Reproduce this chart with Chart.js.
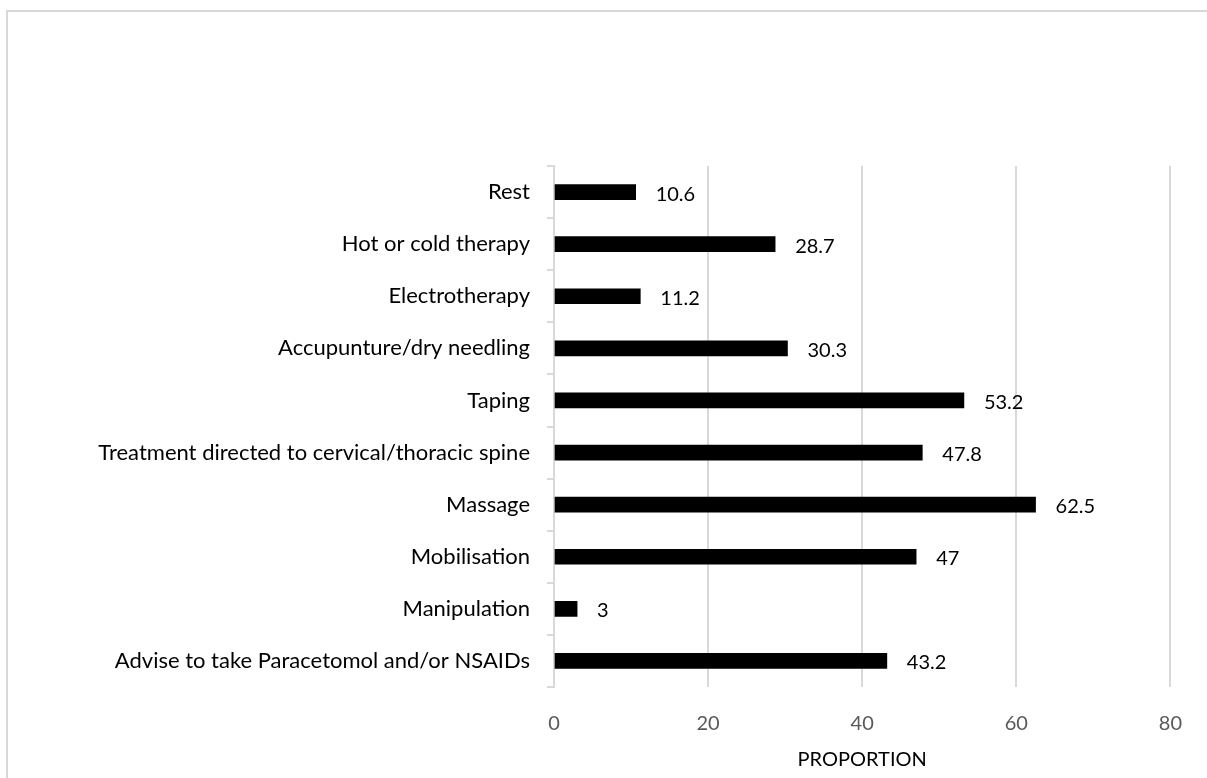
<!DOCTYPE html>
<html lang="en">
<head>
    <meta charset="UTF-8">
    <title>Proportion by treatment</title>
    <script src="https://cdn.jsdelivr.net/npm/chart.js"></script>
    <style>
        html, body {
            margin: 0;
            padding: 0;
            background: #fff;
            overflow: hidden;
        }
        .frame {
            position: absolute;
            left: 6px;
            top: 10px;
            width: 1230px;
            height: 800px;
            border: 2px solid #d9d9d9;
        }
        .chart-wrap {
            position: absolute;
            left: 0;
            top: 0;
            width: 1207px;
            height: 778px;
        }
    </style>
</head>
<body>
    <div class="frame"></div>
    <div class="chart-wrap">
        <canvas id="barChart"></canvas>
    </div>

    <script>
        // Treatments, listed top to bottom
        const treatments = [
            'Rest',
            'Hot or cold therapy',
            'Electrotherapy',
            'Accupunture/dry needling',
            'Taping',
            'Treatment directed to cervical/thoracic spine',
            'Massage',
            'Mobilisation',
            'Manipulation',
            'Advise to take Paracetomol and/or NSAIDs'
        ];
        const proportions = [10.6, 28.7, 11.2, 30.3, 53.2, 47.8, 62.5, 47, 3, 43.2];
        const xTicks = [0, 20, 40, 60, 80];

        const gridGrey = '#d9d9d9';

        // writes each value just past the end of its bar
        const valueLabels = {
            id: 'valueLabels',
            afterDatasetsDraw(chart) {
                const ctx = chart.ctx;
                const meta = chart.getDatasetMeta(0);
                ctx.save();
                ctx.font = '20px Lato';
                ctx.fillStyle = '#000';
                ctx.textAlign = 'left';
                ctx.textBaseline = 'middle';
                meta.data.forEach((bar, i) => {
                    ctx.fillText(String(proportions[i]), bar.x + 20, bar.y + 2);
                });
                ctx.restore();
            }
        };

        const ctx = document.getElementById('barChart').getContext('2d');
        new Chart(ctx, {
            type: 'bar',
            data: {
                labels: treatments,
                datasets: [{
                    data: proportions,
                    backgroundColor: '#000',
                    barThickness: 15
                }]
            },
            options: {
                indexAxis: 'y',
                responsive: true,
                maintainAspectRatio: false,
                animation: false,
                layout: {
                    padding: { top: 166, right: 34, bottom: 0, left: 0 }
                },
                plugins: {
                    legend: { display: false },
                    tooltip: { enabled: false }
                },
                scales: {
                    x: {
                        min: 0,
                        max: 80,
                        afterBuildTicks: (scale) => {
                            scale.ticks = xTicks.map(v => ({ value: v }));
                        },
                        afterFit: (scale) => { scale.height = 91; },
                        grid: {
                            color: (c) => c.tick && c.tick.value === 0 ? 'rgba(0,0,0,0)' : gridGrey,
                            lineWidth: 2,
                            drawTicks: false
                        },
                        border: { display: false },
                        ticks: {
                            padding: 25,
                            color: '#595959',
                            font: { family: 'Lato', size: 20 }
                        },
                        title: {
                            display: true,
                            text: 'PROPORTION',
                            color: '#000',
                            font: { family: 'Lato', size: 20 },
                            padding: { top: 0, bottom: 6 }
                        }
                    },
                    y: {
                        afterFit: (scale) => { scale.width = 554; },
                        grid: {
                            offset: true,
                            drawOnChartArea: false,
                            drawTicks: true,
                            tickLength: 7,
                            color: gridGrey,
                            lineWidth: 2
                        },
                        border: { display: true, color: gridGrey, width: 2 },
                        ticks: {
                            padding: 17,
                            color: '#000',
                            font: { family: 'Lato', size: 22 }
                        }
                    }
                }
            },
            plugins: [valueLabels]
        });
    </script>
</body>
</html>
